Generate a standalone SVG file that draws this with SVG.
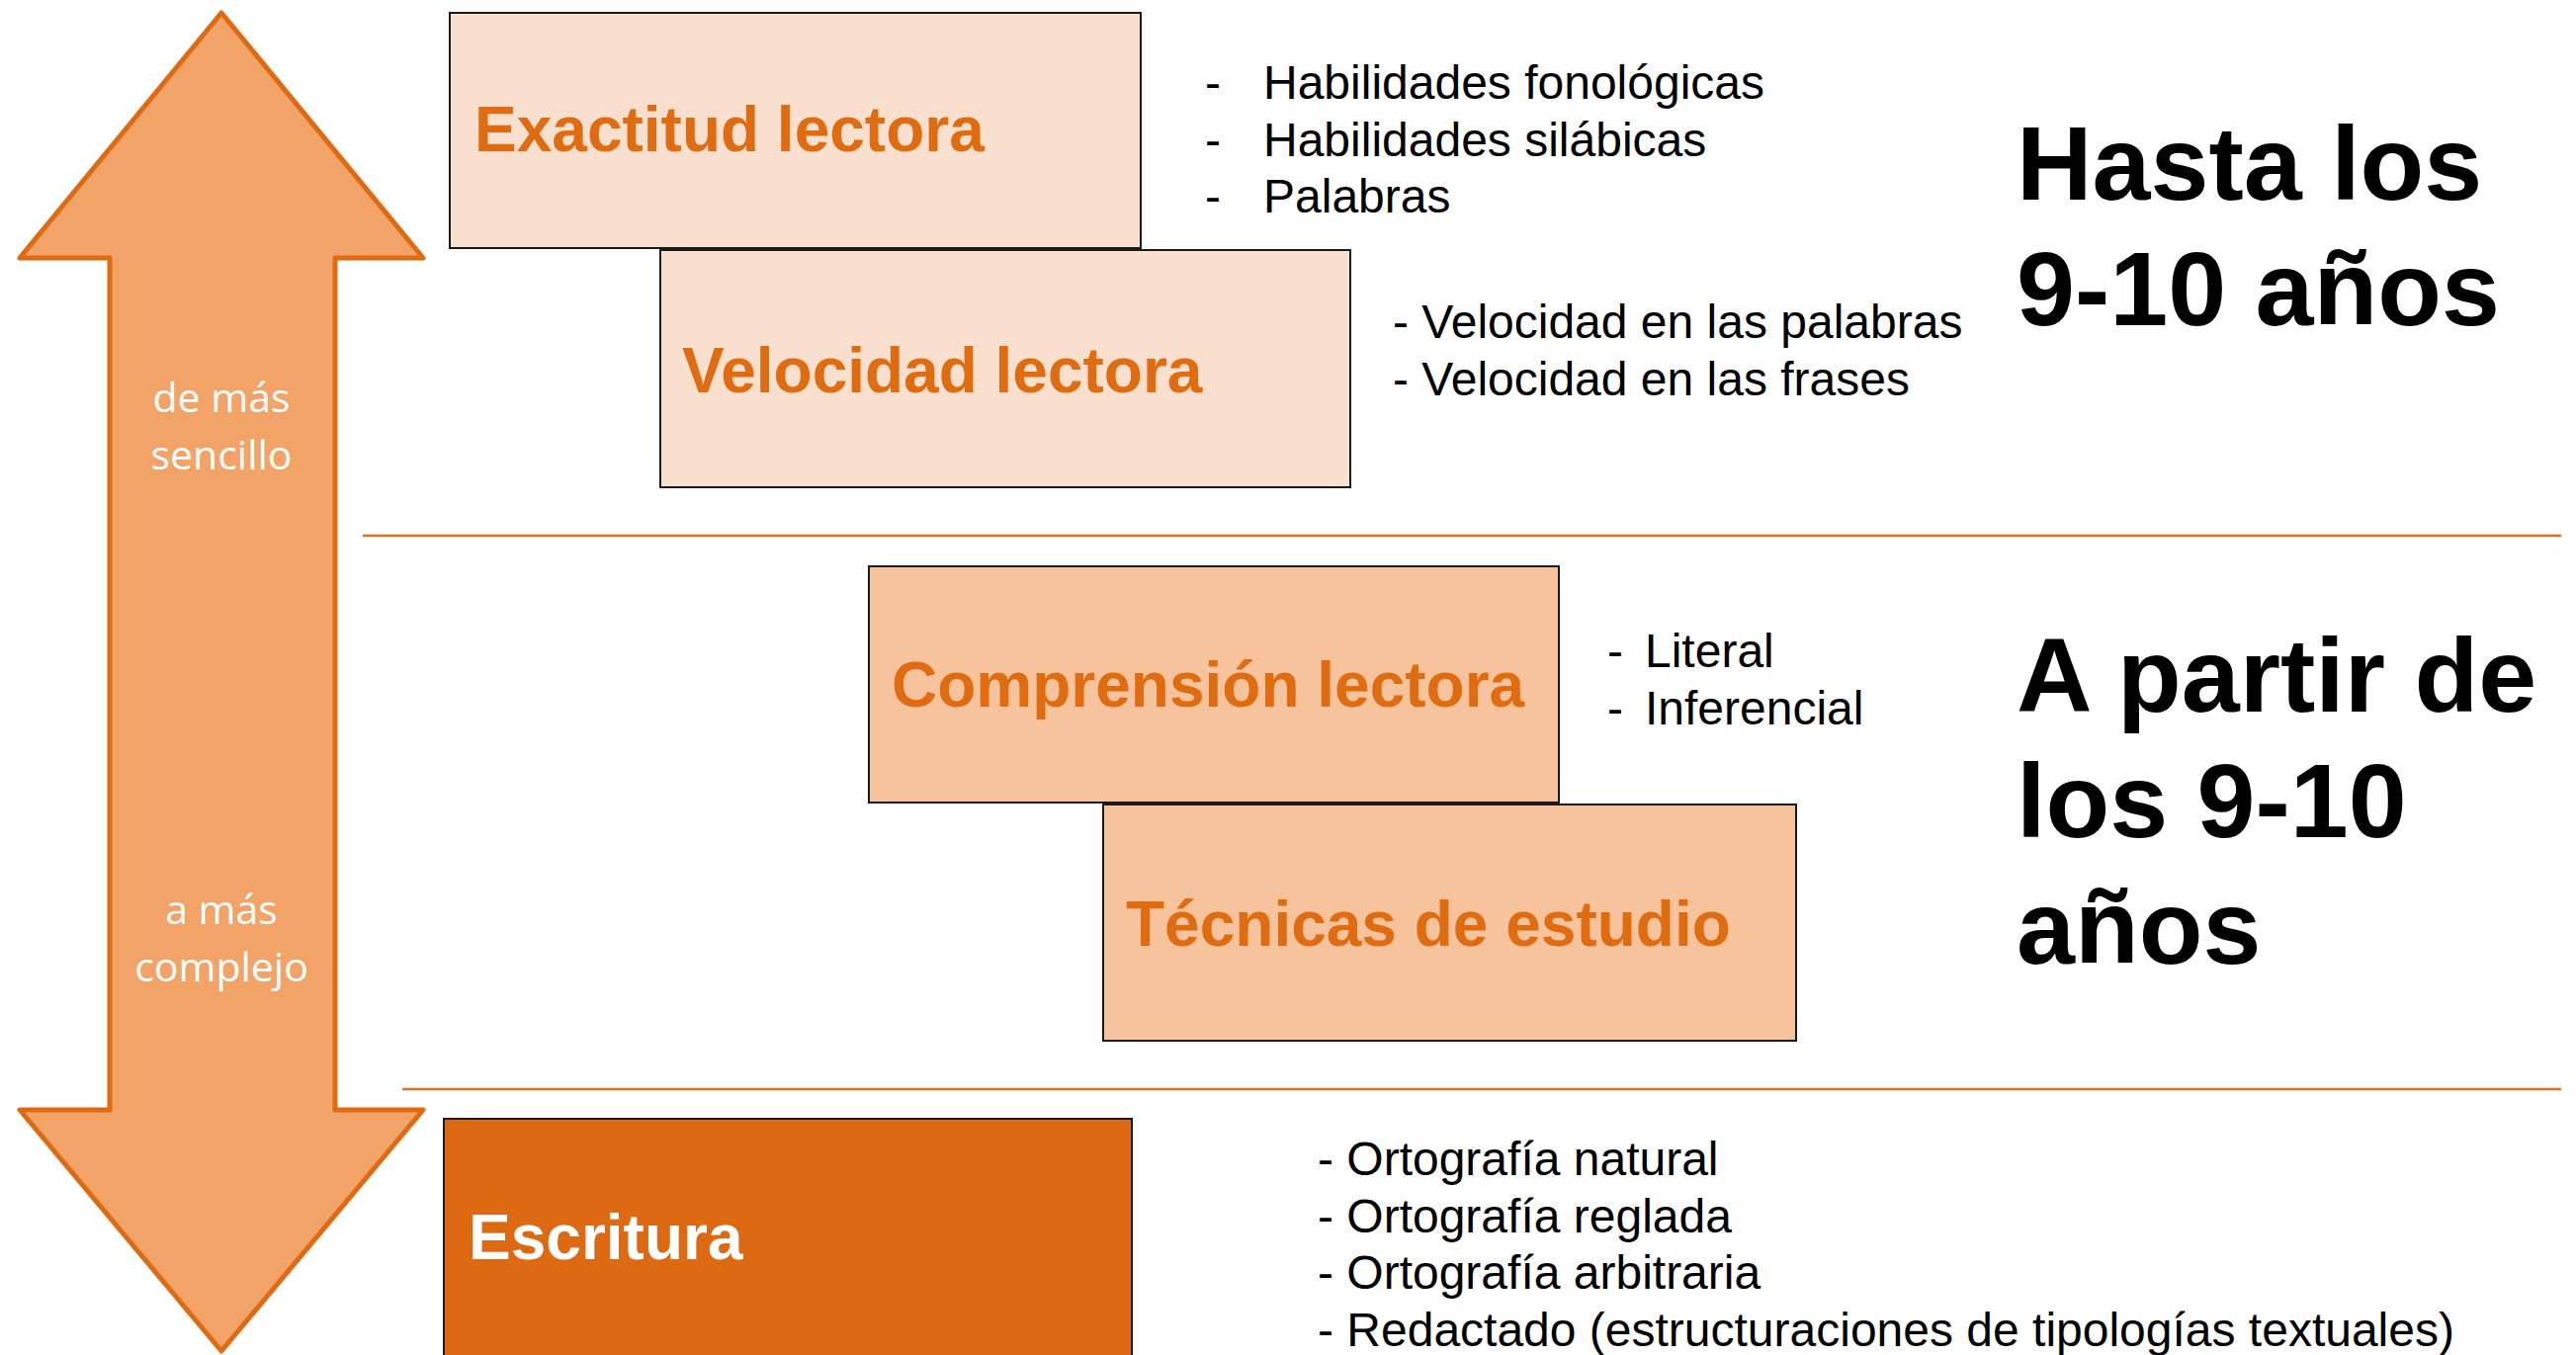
<svg xmlns="http://www.w3.org/2000/svg" width="2606" height="1371" viewBox="0 0 2606 1371">
<style>
.box1{fill:#F9DFCD;stroke:#1a1a1a;stroke-width:2}
.box2{fill:#F7C39D;stroke:#1a1a1a;stroke-width:2}
.box3{fill:#DD6A12;stroke:#1a1a1a;stroke-width:2}
.title{font-family:"Liberation Sans",Arial,sans-serif;font-weight:bold;font-size:64px;fill:#E06C11}
.wtitle{font-family:"Liberation Sans",Arial,sans-serif;font-weight:bold;font-size:64px;fill:#FFFFFF}
.item{font-family:"Liberation Sans",Arial,sans-serif;font-size:48px;fill:#000000}
.big{font-family:"Liberation Sans",Arial,sans-serif;font-weight:bold;font-size:106px;fill:#000000}
.arr{font-family:"Open Sans","Liberation Sans",sans-serif;font-size:41px;fill:#FFFFFF;text-anchor:middle}
.div{stroke:#E07020;stroke-width:2.5}
</style>
<rect width="2606" height="1371" fill="#FFFFFF"/>
<g id="arrow">
<polygon points="224,13 428,261 339,261 339,1123 428,1123 224,1367 20,1123 111,1123 111,261 20,261" fill="#F2A367" stroke="#DE6A12" stroke-width="5" stroke-linejoin="round"/>
<text class="arr" x="224" y="417">de más</text>
<text class="arr" x="224" y="475">sencillo</text>
<text class="arr" x="224" y="935">a más</text>
<text class="arr" x="224" y="993">complejo</text>
</g>
<g id="connectors">
<line class="div" x1="367" y1="542" x2="2591" y2="542"/>
<line class="div" x1="407" y1="1102" x2="2591" y2="1102"/>
</g>
<g id="exactitud">
<rect class="box1" x="455" y="13" width="699" height="238"/>
<text class="title" x="480" y="153">Exactitud lectora</text>
</g>
<g id="exactitud-items">
<text class="item" x="1219" y="100">-</text><text class="item" x="1278" y="100">Habilidades fonológicas</text>
<text class="item" x="1219" y="158">-</text><text class="item" x="1278" y="158">Habilidades silábicas</text>
<text class="item" x="1219" y="215">-</text><text class="item" x="1278" y="215">Palabras</text>
</g>
<g id="velocidad">
<rect class="box1" x="668" y="253" width="698" height="240"/>
<text class="title" x="690" y="397">Velocidad lectora</text>
</g>
<g id="velocidad-items">
<text class="item" x="1409" y="342">- Velocidad en las palabras</text>
<text class="item" x="1409" y="400">- Velocidad en las frases</text>
</g>
<g id="hasta">
<text class="big" x="2040" y="202">Hasta los</text>
<text class="big" x="2040" y="329">9-10 años</text>
</g>
<g id="comprension">
<rect class="box2" x="879" y="573" width="698" height="239"/>
<text class="title" x="902" y="715">Comprensión lectora</text>
</g>
<g id="comprension-items">
<text class="item" x="1626" y="675">-</text><text class="item" x="1664" y="675">Literal</text>
<text class="item" x="1626" y="733">-</text><text class="item" x="1664" y="733">Inferencial</text>
</g>
<g id="tecnicas">
<rect class="box2" x="1116" y="814" width="701" height="239"/>
<text class="title" x="1139" y="957">Técnicas de estudio</text>
</g>
<g id="apartir">
<text class="big" x="2040" y="720">A partir de</text>
<text class="big" x="2040" y="847">los 9-10</text>
<text class="big" x="2040" y="975">años</text>
</g>
<g id="escritura">
<rect class="box3" x="449" y="1132" width="696" height="240"/>
<text class="wtitle" x="474" y="1274">Escritura</text>
</g>
<g id="escritura-items">
<text class="item" x="1333" y="1189">- Ortografía natural</text>
<text class="item" x="1333" y="1247">- Ortografía reglada</text>
<text class="item" x="1333" y="1304">- Ortografía arbitraria</text>
<text class="item" x="1333" y="1362">- Redactado (estructuraciones de tipologías textuales)</text>
</g>
</svg>
